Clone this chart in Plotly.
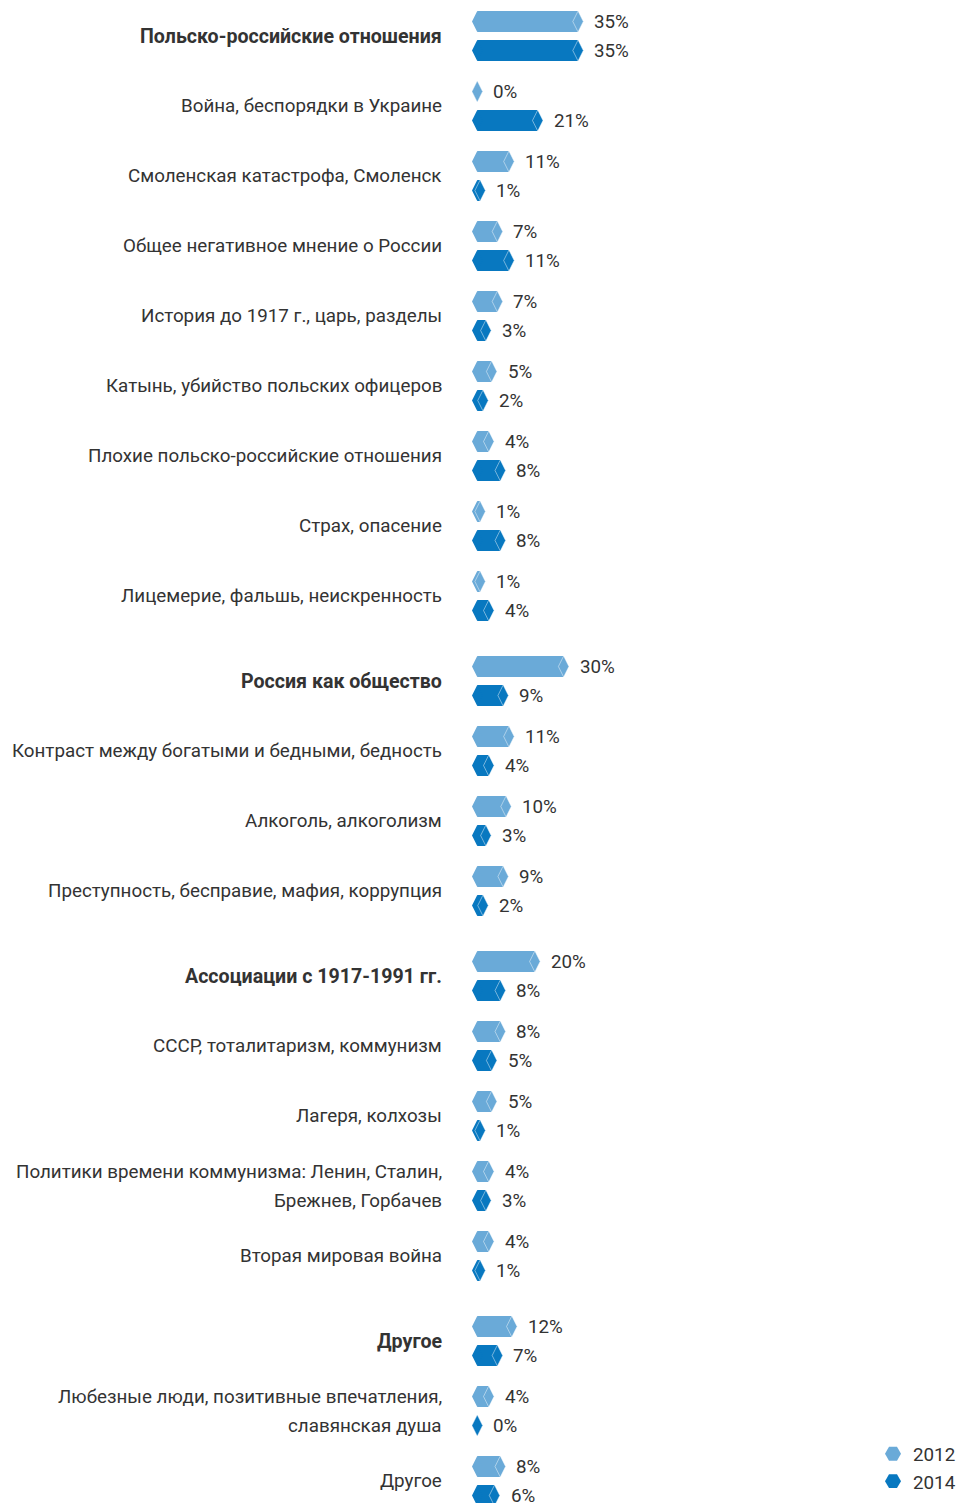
import plotly.graph_objects as go

# ---- data ----
categories = [
    "Польско-российские отношения",
    "Война, беспорядки в Украине",
    "Смоленская катастрофа, Смоленск",
    "Общее негативное мнение о России",
    "История до 1917 г., царь, разделы",
    "Катынь, убийство польских офицеров",
    "Плохие польско-российские отношения",
    "Страх, опасение",
    "Лицемерие, фальшь, неискренность",
    "Россия как общество",
    "Контраст между богатыми и бедными, бедность",
    "Алкоголь, алкоголизм",
    "Преступность, бесправие, мафия, коррупция",
    "Ассоциации с 1917-1991 гг.",
    "СССР, тоталитаризм, коммунизм",
    "Лагеря, колхозы",
    "Политики времени коммунизма: Ленин, Сталин,\nБрежнев, Горбачев",
    "Вторая мировая война",
    "Другое",
    "Любезные люди, позитивные впечатления,\nславянская душа",
    "Другое",
]
is_header = [True, False, False, False, False, False, False, False, False,
             True, False, False, False,
             True, False, False, False, False,
             True, False, False]
values_2012 = [35, 0, 11, 7, 7, 5, 4, 1, 1, 30, 11, 10, 9, 20, 8, 5, 4, 4, 12, 4, 8]
values_2014 = [35, 21, 1, 11, 3, 2, 8, 8, 4, 9, 4, 3, 2, 8, 5, 1, 3, 1, 7, 0, 6]
years = ["2012", "2014"]

# ---- layout helpers (figure pixels; page adds an 8px body margin) ----
W, H = 958, 1495
PX_PER = 2.88          # pixels per percentage point
X0 = 469.25            # pixel position of value 0
ROW = 70               # row pitch
GROUP_GAP = 15         # extra gap before each header group
FIRST = 28
OFF = 14.5             # half distance between the two bars of a pair
BAR_H = 21
LABEL_X = 436

colors = {"2012": "#6aaad8", "2014": "#0878c0"}
TEXT = "#333333"
FONT = "Roboto, 'Noto Sans', sans-serif"
FS = 18.8
FS_B = 19.6

centers = []
g = -1
for i, h in enumerate(is_header):
    if h:
        g += 1
    centers.append(FIRST + ROW * i + GROUP_GAP * g)

y_pos = {
    "2012": [c - OFF for c in centers],
    "2014": [c + OFF for c in centers],
}
vals = {"2012": values_2012, "2014": values_2014}

fig = go.Figure()
for yr in years:
    c = colors[yr]
    fig.add_trace(go.Bar(
        orientation="h", x=vals[yr], y=y_pos[yr], base=0, width=BAR_H,
        marker=dict(color=c, line=dict(width=0)), showlegend=False,
        hoverinfo="skip"))
    # left pointed ends
    fig.add_trace(go.Scatter(
        x=[0] * len(vals[yr]), y=y_pos[yr], mode="markers",
        marker=dict(symbol="diamond-tall", size=15, color=c, line=dict(width=0)),
        showlegend=False, hoverinfo="skip"))
    # right pointed ends
    fig.add_trace(go.Scatter(
        x=vals[yr], y=y_pos[yr], mode="markers",
        marker=dict(symbol="diamond-tall", size=15, color=c, line=dict(width=0)),
        showlegend=False, hoverinfo="skip"))
    # chevron highlight
    fig.add_trace(go.Scatter(
        x=vals[yr], y=y_pos[yr], mode="markers",
        marker=dict(symbol="diamond-tall-open", size=15,
                    color="rgba(255,255,255,0.45)", line=dict(width=1)),
        showlegend=False, hoverinfo="skip"))
    # legend entry
    fig.add_trace(go.Scatter(
        x=[None], y=[None], mode="markers", name=yr,
        marker=dict(symbol="hexagon2", size=22, color=c, line=dict(width=0))))

annotations = []
# value labels
for yr in years:
    for v, y in zip(vals[yr], y_pos[yr]):
        annotations.append(dict(
            x=v, y=y, xref="x", yref="y", text=f"{v}%", showarrow=False,
            xanchor="left", yanchor="middle", xshift=14,
            font=dict(family=FONT, size=FS, color=TEXT)))
# category labels
for cat, hdr, c in zip(categories, is_header, centers):
    lines = cat.split("\n")
    if len(lines) == 1:
        ys = [c]
    else:
        ys = [c - OFF, c + OFF]
    for ln, yy in zip(lines, ys):
        annotations.append(dict(
            x=LABEL_X / W, y=yy, xref="paper", yref="y",
            text=f"<b>{ln}</b>" if hdr else ln, showarrow=False,
            xanchor="right", yanchor="middle",
            font=dict(family=FONT, size=FS_B if hdr else FS, color=TEXT)))

fig.update_layout(
    width=W, height=H, autosize=False,
    margin=dict(l=0, r=0, t=0, b=0),
    paper_bgcolor="white", plot_bgcolor="white",
    barmode="overlay",
    xaxis=dict(range=[-X0 / PX_PER, (W - X0) / PX_PER], visible=False,
               fixedrange=True),
    yaxis=dict(range=[H, 0], visible=False, fixedrange=True),
    annotations=annotations,
    showlegend=True,
    legend=dict(x=865 / W, y=1 - 1427 / H, xanchor="left", yanchor="top",
                font=dict(family=FONT, size=FS, color=TEXT),
                bgcolor="rgba(0,0,0,0)", itemwidth=30, tracegroupgap=0),
)

fig.write_html("out.html")
